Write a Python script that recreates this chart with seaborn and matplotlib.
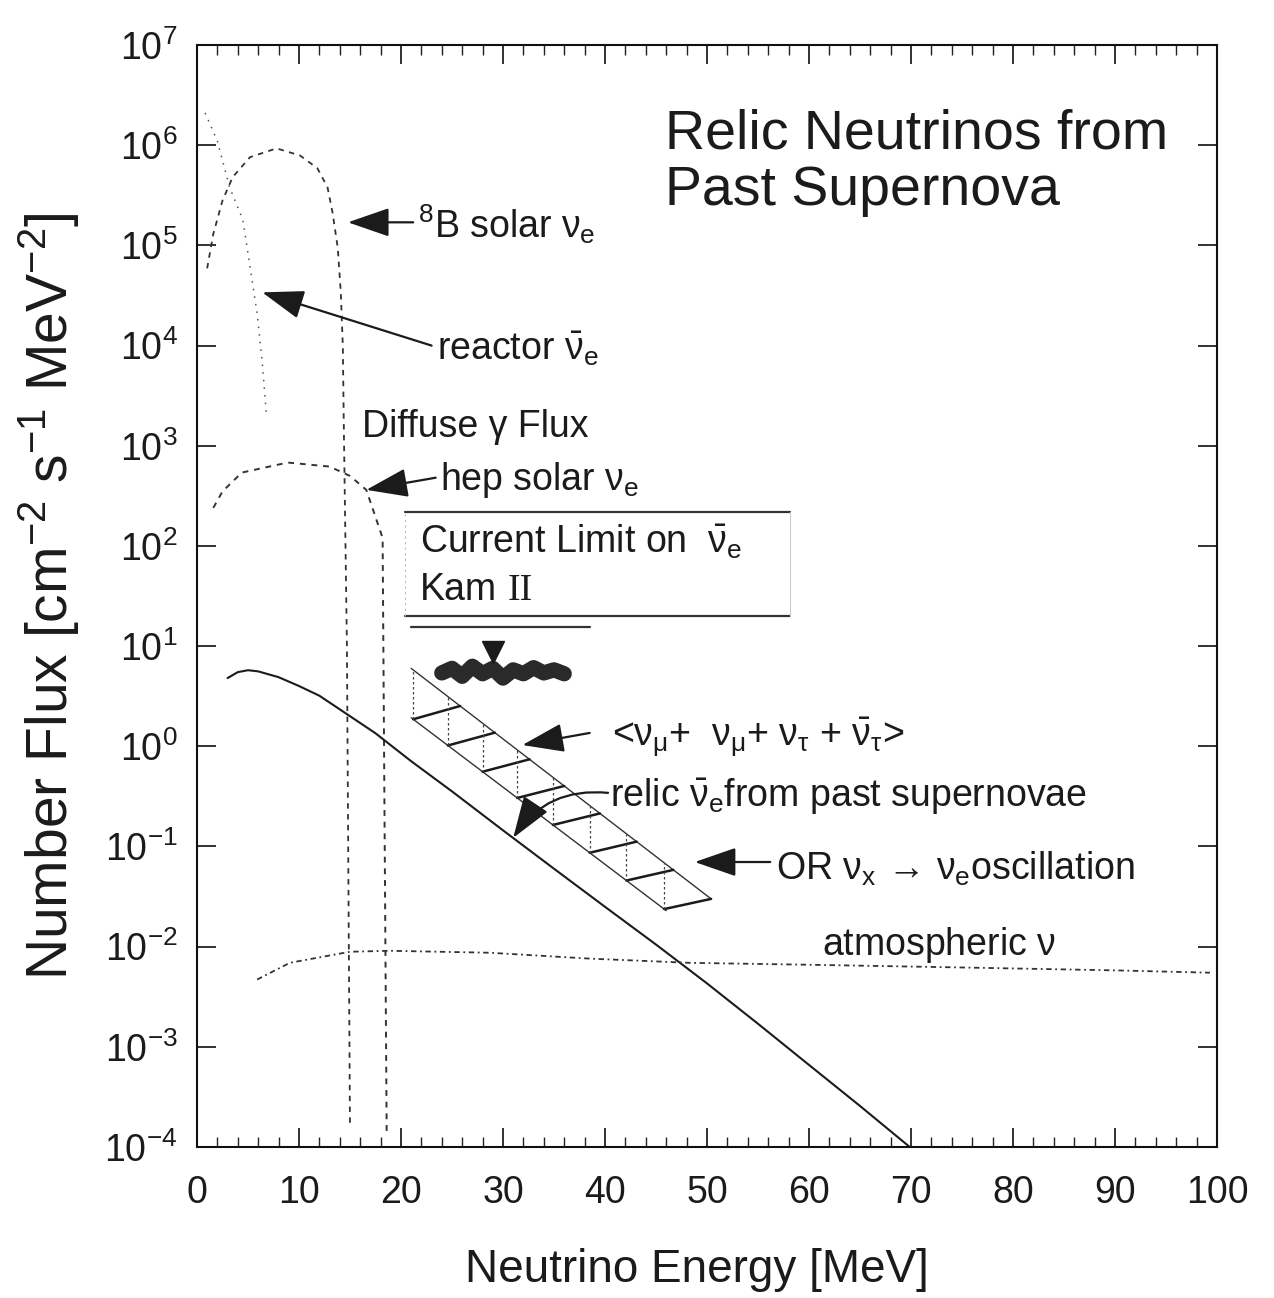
import numpy as np
import pandas as pd
import matplotlib
matplotlib.use("Agg")
import matplotlib.pyplot as plt
import seaborn as sns
from matplotlib import font_manager as fm
from matplotlib.ticker import MultipleLocator, NullLocator, FixedLocator

# ---------------- data ----------------
b8_E = [1.0, 1.6, 2.5, 3.5, 5.2, 7.8, 10.1, 11.8, 12.8, 13.3, 13.8, 14.1, 14.3, 14.4, 14.7, 15.0]
b8_flux = [5.9e4, 1.3e5, 2.8e5, 4.8e5, 7.6e5, 9.3e5, 7.9e5, 5.9e5, 3.8e5, 2.1e5,
           9.5e4, 3.4e4, 9.8e3, 1.45e3, 10.0, 1.6e-4]

reactor_E = [0.8, 2.0, 3.2, 4.5, 5.4, 5.9, 6.4, 6.8]
reactor_flux = [2.1e6, 1.1e6, 3.8e5, 1.8e5, 4.5e4, 2.1e4, 6.8e3, 2.1e3]

hep_E = [1.6, 2.5, 4.4, 8.9, 13.0, 15.0, 16.6, 18.2, 18.6]
hep_flux = [240, 350, 540, 680, 620, 500, 363, 120, 1.3e-4]

relic_E = [3, 4, 5, 6, 8, 10, 12, 15, 17.5, 21, 25, 30, 35, 40, 45, 50, 55, 60, 65, 70]
relic_flux = [4.8, 5.5, 5.75, 5.6, 4.9, 4.0, 3.2, 2.0, 1.35, 0.71, 0.355, 0.145, 0.060,
              0.025, 0.0105, 0.0043, 0.0017, 0.00066, 0.000257, 0.0000977]

atm_E = [5.9, 9.1, 15.0, 18.9, 28.7, 38.5, 48.3, 60, 75, 90, 99.3]
atm_flux = [0.0047, 0.0069, 0.0089, 0.0091, 0.0087, 0.0076, 0.0069, 0.0066, 0.0062, 0.0058, 0.0055]

band_upper_E = [21.0, 50.4]
band_upper = [6.0, 0.030]
band_lower_E = [21.0, 46.0]
band_lower = [1.93, 0.0229]
rung_E = [21.2, 24.6, 28.0, 31.4, 34.9, 38.5, 42.1, 45.8]
rung_shift = 4.6

kam_E = [24, 25, 26, 27, 28, 29, 30, 31, 32, 33, 34, 35, 36]
kam_flux = [5.4, 6.0, 5.0, 6.3, 5.3, 6.0, 4.8, 5.8, 5.3, 6.1, 5.4, 5.8, 5.3]
kam_mark_E = [29.0]
kam_mark_flux = [8.7]
kam_line_E = [21.0, 38.5]
kam_line_flux = [15.5, 15.5]

box_E = [20.4, 58.1]
box_top = 219.0
box_bottom = 19.8

x_ticks = [0, 10, 20, 30, 40, 50, 60, 70, 80, 90, 100]
x_tick_labels = ["0", "10", "20", "30", "40", "50", "60", "70", "80", "90", "100"]
y_ticks = [1e-4, 1e-3, 1e-2, 1e-1, 1e0, 1e1, 1e2, 1e3, 1e4, 1e5, 1e6, 1e7]
y_tick_labels = [r"$10^{-4}$", r"$10^{-3}$", r"$10^{-2}$", r"$10^{-1}$", r"$10^{0}$", r"$10^{1}$",
                 r"$10^{2}$", r"$10^{3}$", r"$10^{4}$", r"$10^{5}$", r"$10^{6}$", r"$10^{7}$"]

# ---------------- style ----------------
sns.set_theme(style="ticks")
names = {f.name for f in fm.fontManager.ttflist}
SANS = "Liberation Sans" if "Liberation Sans" in names else "DejaVu Sans"
NARROW = "Liberation Sans Narrow" if "Liberation Sans Narrow" in names else SANS
SERIF = "Liberation Serif" if "Liberation Serif" in names else "DejaVu Serif"
plt.rcParams.update({
    "font.family": [SANS, "DejaVu Sans"],
    "mathtext.fontset": "custom",
    "mathtext.rm": SANS,
    "mathtext.it": SANS,
    "mathtext.bf": SANS + ":bold",
    "mathtext.sf": SANS,
    "axes.edgecolor": "#111111",
    "axes.linewidth": 1.5,
})

INK = "#1b1b1b"
fig, ax = plt.subplots(figsize=(12.74, 12.98), dpi=100)
fig.subplots_adjust(left=0.1546, right=0.9553, bottom=0.1163, top=0.9653)
ax.set_facecolor("white")
ax.set_yscale("log")
ax.set_xlim(0, 100)
ax.set_ylim(1e-4, 1e7)

# curves
sns.lineplot(x=b8_E, y=b8_flux, ax=ax, sort=False, estimator=None, color="#333333",
             lw=1.3, linestyle=(0, (3, 3)))
sns.lineplot(x=reactor_E, y=reactor_flux, ax=ax, sort=False, estimator=None, color="#555555",
             lw=1.1, linestyle=(0, (1, 4)))
sns.lineplot(x=hep_E, y=hep_flux, ax=ax, sort=False, estimator=None, color="#333333",
             lw=1.4, linestyle=(0, (3, 3)))
sns.lineplot(x=relic_E, y=relic_flux, ax=ax, sort=False, estimator=None, color=INK, lw=1.5)
sns.lineplot(x=atm_E, y=atm_flux, ax=ax, sort=False, estimator=None, color="#333333",
             lw=1.3, linestyle=(0, (3, 2, 1, 2)))

# hatched band
sns.lineplot(x=band_upper_E, y=band_upper, ax=ax, sort=False, estimator=None, color="#333333", lw=1.0)
sns.lineplot(x=band_lower_E, y=band_lower, ax=ax, sort=False, estimator=None, color="#333333", lw=1.0)
logU = lambda e: 10 ** np.interp(e, band_upper_E, np.log10(band_upper))
logL = lambda e: 10 ** np.interp(e, band_lower_E, np.log10(band_lower))
for e in rung_E:
    ax.plot([e, e + rung_shift], [logL(e), logU(e + rung_shift)], color=INK, lw=1.8)
    ax.plot([e, e], [logL(e), logU(e)], color="#444444", lw=0.9, linestyle=(0, (2, 2)))

# Kam II limit
sns.lineplot(x=kam_E, y=kam_flux, ax=ax, sort=False, estimator=None, color="#2a2a2a", lw=11,
             solid_capstyle="round", solid_joinstyle="round")
ax.plot(kam_mark_E, kam_mark_flux, marker="v", ms=16, color=INK, ls="none")
ax.plot(kam_line_E, kam_line_flux, color="#333333", lw=1.6)
ax.plot(box_E, [box_top, box_top], color="#333333", lw=1.6)
ax.plot(box_E, [box_bottom, box_bottom], color="#333333", lw=1.6)
ax.plot([box_E[0], box_E[0]], [box_bottom, box_top], color="#bbbbbb", lw=0.8, ls=(0, (2, 3)))
ax.plot([box_E[1], box_E[1]], [box_bottom, box_top], color="#cccccc", lw=0.8)

# ---------------- axes ----------------
ax.xaxis.set_major_locator(FixedLocator(x_ticks))
ax.xaxis.set_minor_locator(MultipleLocator(2))
ax.set_xticklabels(x_tick_labels, fontfamily=NARROW, fontsize=27, color=INK)
ax.yaxis.set_major_locator(FixedLocator(y_ticks))
ax.yaxis.set_minor_locator(NullLocator())
ax.set_yticklabels(y_tick_labels, fontsize=27, color=INK)
ax.tick_params(which="both", direction="in", top=True, right=True, color="#222222")
ax.tick_params(which="major", length=14, width=1.3)
ax.tick_params(which="minor", length=7, width=1.0)
ax.tick_params(axis="x", pad=20)
ax.tick_params(axis="y", pad=14)
for s in ax.spines.values():
    s.set_visible(True)

ax.set_xlabel("Neutrino Energy [MeV]", fontfamily=NARROW, fontsize=33, color=INK)
ax.xaxis.set_label_coords(0.49, -0.092)
ax.set_ylabel(r"Number Flux [cm$^{-2}$ s$^{-1}$ MeV$^{-2}$]", fontsize=41, color=INK)
ax.yaxis.set_label_coords(-0.113, 0.5)

# ---------------- text & arrows ----------------
FS = 27
ax.text(45.9, 10 ** 5.40, "Relic Neutrinos from\nPast Supernova", fontsize=40, color=INK,
        va="baseline", ha="left", linespacing=1.12)
ax.text(21.7, 10 ** 5.08, r"$^{8}$B solar $\nu_e$", fontsize=FS, color=INK, va="baseline")
ax.text(23.5, 10 ** 3.86, r"reactor $\bar{\nu}_e$", fontsize=FS, color=INK, va="baseline")
ax.text(16.2, 10 ** 3.09, "Diffuse γ Flux", fontsize=FS, color=INK, va="baseline")
ax.text(23.8, 10 ** 2.56, r"hep solar $\nu_e$", fontsize=FS, color=INK, va="baseline")
ax.text(21.9, 10 ** 1.93, r"Current Limit on  $\bar{\nu}_e$", fontsize=FS, color=INK, va="baseline")
kam = ax.text(21.9, 10 ** 1.46, "Kam", fontsize=FS, color=INK, va="baseline")
ax.annotate("II", xy=(1, 0), xycoords=kam, xytext=(7, 0), textcoords="offset points",
            fontsize=FS, color=INK, fontfamily=SERIF, va="bottom")
ax.text(40.7, 10 ** 0.01, r"<$\nu_\mu$+  $\nu_\mu$+ $\nu_\tau$ + $\bar{\nu}_\tau$>", fontsize=FS,
        color=INK, va="baseline")
ax.text(40.5, 10 ** -0.61, r"relic $\bar{\nu}_e$from past supernovae", fontsize=FS, color=INK,
        va="baseline")
ax.text(56.8, 10 ** -1.33, r"OR $\nu_x\,\rightarrow\,\nu_e$oscillation", fontsize=FS, color=INK,
        va="baseline")
ax.text(61.3, 10 ** -2.08, r"atmospheric $\nu$", fontsize=FS, color=INK, va="baseline")

arrow = dict(arrowstyle="-|>,head_length=1.3,head_width=0.45", mutation_scale=20, lw=1.6,
             color=INK, shrinkA=0, shrinkB=0)
ax.annotate("", xy=(14.8, 1.7e5), xytext=(21.2, 1.7e5), arrowprops=arrow)
ax.annotate("", xy=(6.4, 3.4e4), xytext=(23.0, 1.0e4), arrowprops=arrow)
ax.annotate("", xy=(16.6, 363), xytext=(23.4, 480), arrowprops=arrow)
ax.annotate("", xy=(31.9, 1.03), xytext=(38.5, 1.36), arrowprops=arrow)
ax.annotate("", xy=(31.0, 0.122), xytext=(40.3, 0.343),
            arrowprops=dict(arrow, connectionstyle="arc3,rad=0.3"))
ax.annotate("", xy=(48.8, 0.070), xytext=(56.2, 0.070), arrowprops=arrow)

fig.savefig("out.png", dpi=100, facecolor="white")
